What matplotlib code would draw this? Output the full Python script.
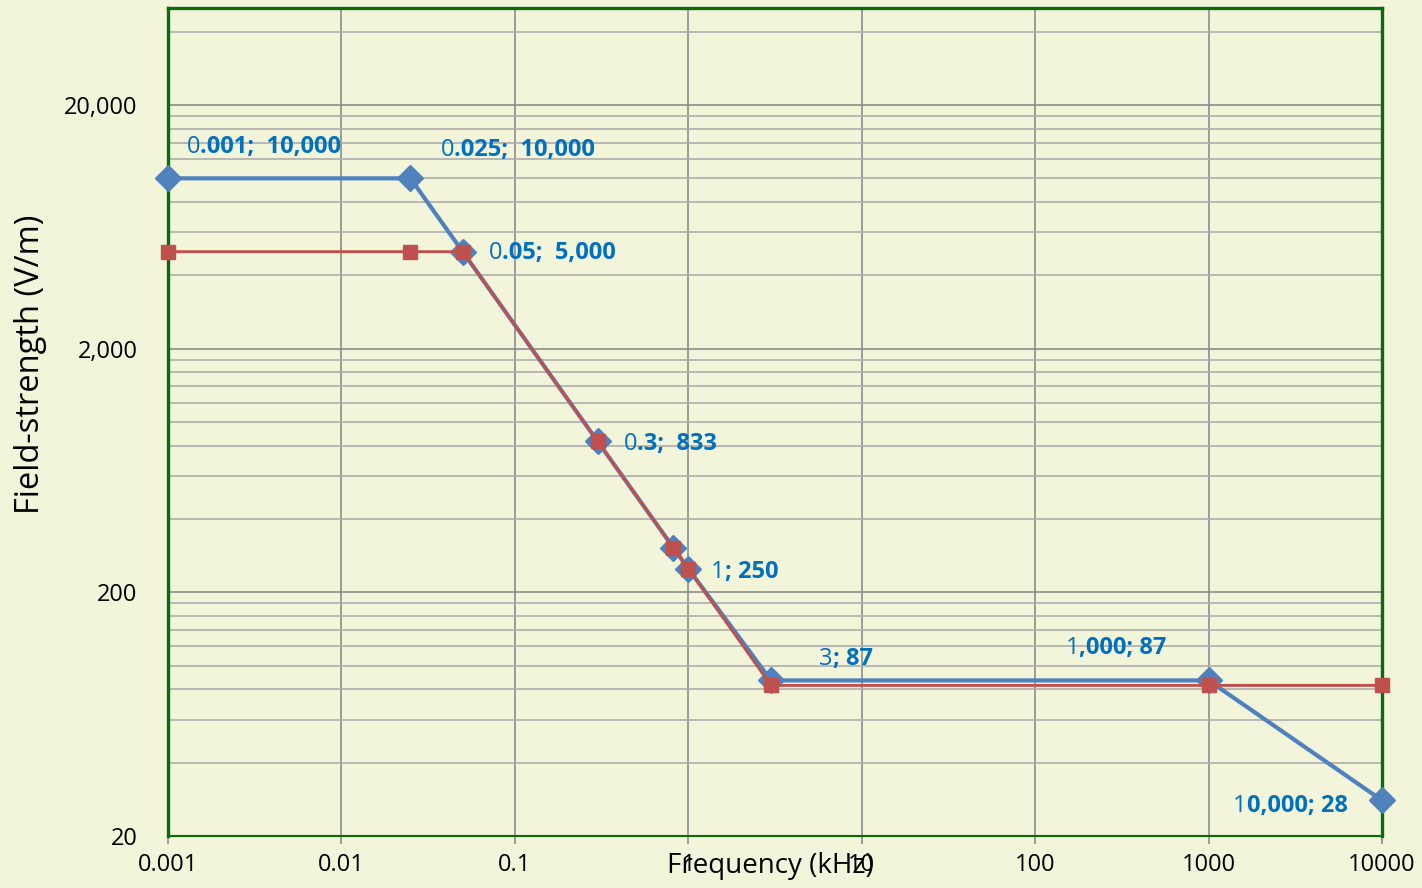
import numpy as np
import matplotlib.pyplot as plt
from matplotlib.ticker import FixedLocator, FixedFormatter, NullFormatter

plt.rcParams['font.family'] = ['Open Sans', 'DejaVu Sans']

# Field-strength limit curves vs frequency
freq_khz = [0.001, 0.025, 0.05, 0.3, 0.82, 1, 3, 1000, 10000]
blue_vm = [10000, 10000, 5000, 833, 305, 250, 87, 87, 28]
red_vm = [5000, 5000, 5000, 833, 305, 250, 83, 83, 83]

# data labels on the blue curve: (point index, plain part, bold part)
label_idx = [0, 1, 2, 3, 5, 6, 7, 8]
label_plain = ["0", "0", "0", "0", "1", "3", "1", "1"]
label_bold = [".001;  10,000", ".025;  10,000", ".05;  5,000", ".3;  833",
              "; 250", "; 87", ",000; 87", "0,000; 28"]
# offset of label's left/centre from the marker, in pixels
label_off = [(19, 31), (30, 28), (26, -1), (26, -3), (23, -3), (48, 21),
             (-143, 32), (-149, -6)]

x_ticks = [0.001, 0.01, 0.1, 1, 10, 100, 1000, 10000]
x_ticklabels = ["0.001", "0.01", "0.1", "1", "10", "100", "1000", "10000"]
y_ticks = [20, 200, 2000, 20000]
y_ticklabels = ["20", "200", "2,000", "20,000"]

bg = '#F2F5DA'
blue = '#4F81BD'
red = '#C0504D'
lab_col = '#0070C0'
green = '#0A6B0A'

fig = plt.figure(figsize=(14.22, 8.88), dpi=100, facecolor=bg)
ax = fig.add_axes([168 / 1422, 1 - 836 / 888, 1214 / 1422, 828 / 888])
ax.set_facecolor(bg)
ax.set_xscale('log')
ax.set_yscale('log')
ax.set_xlim(0.001, 10000)
ax.set_ylim(20, 50000)

# minor lines at 2..9 times each decade start (20, 200, ...)
y_minor = [d * m for d in y_ticks for m in range(2, 10) if d * m < 50000]
ax.yaxis.set_major_locator(FixedLocator(y_ticks))
ax.yaxis.set_major_formatter(FixedFormatter(y_ticklabels))
ax.yaxis.set_minor_locator(FixedLocator(y_minor))
ax.yaxis.set_minor_formatter(NullFormatter())
ax.xaxis.set_major_locator(FixedLocator(x_ticks))
ax.xaxis.set_major_formatter(FixedFormatter(x_ticklabels))
ax.xaxis.set_minor_locator(FixedLocator([]))

ax.grid(which='major', axis='both', color='#8C8C8C', linewidth=1.2)
ax.grid(which='minor', axis='y', color='#ADADAD', linewidth=1.2)
ax.set_axisbelow(True)

ax.tick_params(axis='x', which='major', length=6, width=1.2, color='#8C8C8C',
               labelsize=17, pad=6, direction='out')
ax.tick_params(axis='y', which='both', length=0, labelsize=17, pad=22)

for side in ['left', 'top', 'right']:
    ax.spines[side].set_color(green)
    ax.spines[side].set_linewidth(2.4)
ax.spines['bottom'].set_color(green)
ax.spines['bottom'].set_linewidth(1.5)

ax.plot(freq_khz, blue_vm, color=blue, linewidth=3, marker='D', markersize=13,
        clip_on=False, zorder=3)
ax.plot(freq_khz, red_vm, color=red, linewidth=2.1, marker='s', markersize=10,
        clip_on=False, zorder=4)

for i, plain, bold, (dx, dy) in zip(label_idx, label_plain, label_bold, label_off):
    t1 = ax.annotate(plain, xy=(freq_khz[i], blue_vm[i]), xytext=(dx, dy),
                     textcoords='offset pixels', ha='left', va='center',
                     fontsize=17, color=lab_col, zorder=5)
    ax.annotate(bold, xy=(1, 0), xycoords=t1, ha='left', va='bottom',
                fontsize=17, fontweight='bold', color=lab_col, zorder=5)

ax.text(0.496, -0.036, "Frequency (kHz)", transform=ax.transAxes,
        ha='center', va='center', fontsize=20)
ax.text(-0.113, 0.57, "Field-strength (V/m)", transform=ax.transAxes,
        ha='center', va='center', rotation=90, fontsize=23.5)

fig.savefig('out.png', dpi=100, facecolor=bg)
